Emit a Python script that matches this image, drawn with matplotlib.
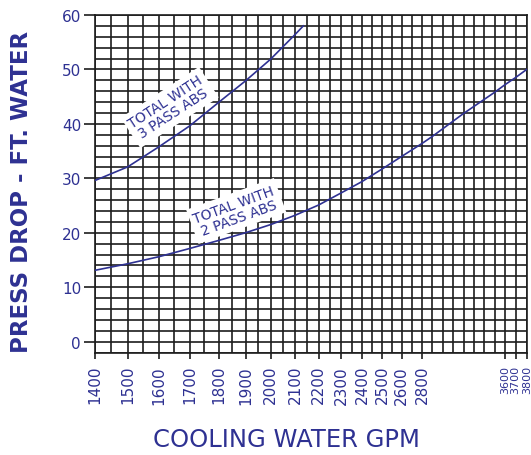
import numpy as np
import matplotlib
matplotlib.use("Agg")
import matplotlib.pyplot as plt
from matplotlib.ticker import FixedLocator, FixedFormatter

# ---------------- data ----------------
gpm_two_pass = [1400, 1500, 1600, 1700, 1800, 1900, 2000, 2100, 2200, 2300, 2400,
                2500, 2600, 2800, 2900, 3000, 3100, 3200, 3300, 3400, 3500, 3600,
                3700, 3800]
drop_two_pass = [13.1, 14.3, 15.6, 17.1, 18.6, 20.0, 21.5, 23.2, 25.1, 27.3, 29.4,
                 31.7, 34.0, 36.4, 37.7, 39.1, 40.5, 41.9, 43.2, 44.5, 45.8, 47.2,
                 48.5, 50.0]

gpm_three_pass = [1400, 1500, 1600, 1700, 1800, 1900, 2000, 2100, 2135]
drop_three_pass = [29.6, 32.1, 35.8, 39.6, 44.0, 47.9, 51.9, 56.4, 58.0]

x_tick_values = [1400, 1500, 1600, 1700, 1800, 1900, 2000, 2100, 2200, 2300, 2400,
                 2500, 2600, 2800, 3600, 3700, 3800]
x_tick_labels = [str(v) for v in x_tick_values]
y_tick_values = [0, 10, 20, 30, 40, 50, 60]

# scale warp of the printed chart (GPM -> relative axis distance)
scale_knots_gpm = x_tick_values
scale_knots_pos = [0.0, 32.7, 64.0, 94.5, 124.0, 150.5, 175.7, 200.0, 223.7, 246.0,
                   267.0, 287.0, 306.5, 327.0, 410.0, 420.5, 431.7]

grid_gpm = list(range(1400, 2600, 50)) + [2600, 2700] + list(range(2800, 3900, 100))
grid_drop = list(range(-2, 61, 2))

label_3 = "TOTAL WITH\n3 PASS ABS"
label_2 = "TOTAL WITH\n2 PASS ABS"

BLUE = "#2E3192"
GRID = "#1c1c1c"

kv = np.array(scale_knots_gpm, float)
kp = np.array(scale_knots_pos, float)


def fwd(x):
    x = np.asarray(x, float)
    y = np.interp(x, kv, kp)
    s0 = (kp[1] - kp[0]) / (kv[1] - kv[0])
    s1 = (kp[-1] - kp[-2]) / (kv[-1] - kv[-2])
    y = np.where(x < kv[0], kp[0] + (x - kv[0]) * s0, y)
    y = np.where(x > kv[-1], kp[-1] + (x - kv[-1]) * s1, y)
    return y


def inv(p):
    p = np.asarray(p, float)
    x = np.interp(p, kp, kv)
    s0 = (kv[1] - kv[0]) / (kp[1] - kp[0])
    s1 = (kv[-1] - kv[-2]) / (kp[-1] - kp[-2])
    x = np.where(p < kp[0], kv[0] + (p - kp[0]) * s0, x)
    x = np.where(p > kp[-1], kv[-1] + (p - kp[-1]) * s1, x)
    return x


fig = plt.figure(figsize=(5.31, 4.56), dpi=100)
ax = fig.add_axes([95 / 531, 1 - 353.5 / 456, (526.7 - 95) / 531, (353.5 - 16) / 456])
ax.set_xscale("function", functions=(fwd, inv))
ax.set_xlim(1400, 3800)
ax.set_ylim(-2, 60)

# grid
for g in grid_gpm:
    ax.axvline(g, color=GRID, lw=1.2, zorder=1)
for g in grid_drop:
    ax.axhline(g, color=GRID, lw=1.2, zorder=1)

# curves
ax.plot(gpm_two_pass, drop_two_pass, color=BLUE, lw=1.2, zorder=3)
ax.plot(gpm_three_pass, drop_three_pass, color=BLUE, lw=1.2, zorder=3)

# curve labels
box = dict(facecolor="white", edgecolor="none", pad=3)
ax.text(1635, 43.0, label_3, color=BLUE, fontsize=10, rotation=33,
        ha="center", va="center", multialignment="center",
        rotation_mode="anchor", bbox=box, zorder=2, linespacing=1.0)
ax.text(1865, 24.0, label_2, color=BLUE, fontsize=10, rotation=20,
        ha="center", va="center", multialignment="center",
        rotation_mode="anchor", bbox=box, zorder=2, linespacing=1.0)

# ticks
ax.xaxis.set_major_locator(FixedLocator(x_tick_values))
ax.xaxis.set_major_formatter(FixedFormatter(x_tick_labels))
ax.xaxis.set_minor_locator(FixedLocator([]))
ax.set_yticks(y_tick_values)
ax.tick_params(axis="x", direction="out", length=4, width=1.2, color=GRID,
               labelcolor=BLUE, labelsize=11, labelrotation=90, pad=5)
ax.tick_params(axis="y", direction="out", length=8, width=1.2, color=GRID,
               labelcolor=BLUE, labelsize=11, pad=2)
for lbl in ax.get_xticklabels():
    if lbl.get_text() in ("3600", "3700", "3800"):
        lbl.set_fontsize(8)

for sp in ax.spines.values():
    sp.set_color(GRID)
    sp.set_linewidth(1.2)

fig.text(286 / 531, 1 - 440 / 456, "COOLING WATER GPM", color=BLUE, fontsize=17.5,
         ha="center", va="center")
fig.text(22 / 531, 1 - 192 / 456, "PRESS DROP - FT. WATER", color=BLUE, fontsize=16.5,
         fontweight="bold", rotation=90, ha="center", va="center")

fig.savefig("out.png", dpi=100)
